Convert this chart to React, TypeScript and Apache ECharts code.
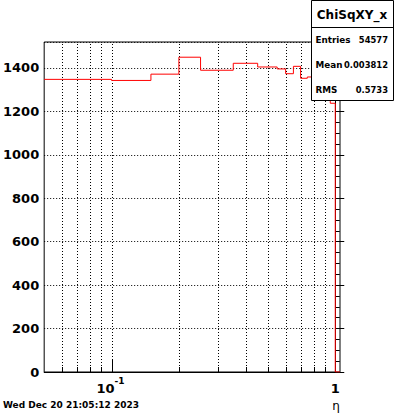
import React, { useEffect, useRef } from "react";
import * as echarts from "echarts";

// Histogram bin edges (eta) and bin contents
const binEdges = [0.05, 0.1, 0.15, 0.2, 0.25, 0.35, 0.45, 0.55, 0.6, 0.65, 0.7, 0.75, 0.8, 0.85, 0.9, 0.95, 1.0, 1.05];
const binCounts = [1347, 1342, 1371, 1449, 1389, 1421, 1404, 1395, 1373, 1407, 1352, 1358, 1345, 1330, 1300, 1237, 0];

// x grid / tick positions (log scale); majors get labels
const xGridValues = [0.06, 0.07, 0.08, 0.09, 0.1, 0.2, 0.3, 0.4, 0.5, 0.6, 0.7, 0.8, 0.9, 1.0];
const xMajorValues = [0.1, 1.0];
const xMajorLabels = [["10", "-1"], ["1", ""]];

const xMin = 0.05;
const xMax = 1.05;
const yMin = 0;
const yMax = 1519;
const yInterval = 200;

const statsTitle = "ChiSqXY_x";
const statsRows = [
  ["Entries", "54577"],
  ["Mean", "0.003812"],
  ["RMS", "0.5733"],
];
const dateText = "Wed Dec 20 21:05:12 2023";
const xTitle = "η";

const FONT = "DejaVu Sans";
const lg = (v: number) => Math.log10(v);

export default function App() {
  const ref = useRef<HTMLDivElement>(null);
  useEffect(() => {
    if (!ref.current) return;
    const chart = echarts.init(ref.current, undefined, { renderer: "svg" });

    const stepData = binEdges.map((e, i) => [lg(e), i < binCounts.length ? binCounts[i] : binCounts[binCounts.length - 1]]);
    const isMajor = (v: number) => xMajorValues.some((m) => Math.abs(m - v) < 1e-9);
    const gridData = xGridValues.map((v) => [lg(v), isMajor(v) ? 1 : 0]);
    const labelData = xMajorValues.map((v, i) => [lg(v), i]);

    const Z = 100;
    const graphics: any[] = [
      { type: "rect", z: Z, shape: { x: 311.5, y: 0.5, width: 82, height: 100 }, style: { fill: "#fff", stroke: "#000", lineWidth: 1 } },
      { type: "line", z: Z + 1, shape: { x1: 311.5, y1: 27.5, x2: 393.5, y2: 27.5 }, style: { stroke: "#000", lineWidth: 1 } },
      { type: "text", z: Z + 1, x: 352, y: 15, style: { text: statsTitle, font: `bold 12px "${FONT}"`, fill: "#000", align: "center", verticalAlign: "middle" } },
    ];
    const rowY = [40, 64.5, 89.5];
    statsRows.forEach((r, i) => {
      graphics.push({ type: "text", z: Z + 1, x: 315.5, y: rowY[i], style: { text: r[0], font: `bold 8.8px "${FONT}"`, fill: "#000", align: "left", verticalAlign: "middle" } });
      graphics.push({ type: "text", z: Z + 1, x: 388, y: rowY[i], style: { text: r[1], font: `bold 8.4px "${FONT}"`, fill: "#000", align: "right", verticalAlign: "middle" } });
    });
    graphics.push({ type: "text", z: Z, x: 3, y: 405, style: { text: dateText, font: `bold 9px "${FONT}"`, fill: "#000", align: "left", verticalAlign: "middle" } });
    graphics.push({ type: "text", z: Z, x: 336, y: 406, style: { text: xTitle, font: `12px "${FONT}"`, fill: "#000", align: "center", verticalAlign: "middle" } });

    chart.setOption({
      animation: false,
      backgroundColor: "#fff",
      grid: { left: 41, top: 42, width: 299, height: 330, show: true, borderColor: "#000", borderWidth: 1, backgroundColor: "transparent", containLabel: false },
      xAxis: {
        type: "value",
        min: lg(xMin),
        max: lg(xMax),
        axisLine: { show: true, lineStyle: { color: "#000", width: 1 } },
        axisTick: { show: false },
        splitLine: { show: false },
        axisLabel: { show: false },
      },
      yAxis: {
        type: "value",
        min: yMin,
        max: yMax,
        interval: yInterval,
        axisLine: { show: true, lineStyle: { color: "#000", width: 1 } },
        axisTick: { show: true, inside: true, length: 9, lineStyle: { color: "#000" } },
        minorTick: { show: true, splitNumber: 4, length: 4.5, lineStyle: { color: "#000" } },
        splitLine: { show: true, lineStyle: { color: "#000", width: 1, type: [1, 2] } },
        axisLabel: {
          show: true, margin: 5, showMaxLabel: false, color: "#000", fontFamily: FONT, fontWeight: "bold", fontSize: 13,
          formatter: (v: number) => String(Math.round(v)),
        },
      },
      series: [
        {
          type: "custom",
          coordinateSystem: "cartesian2d",
          z: 1,
          silent: true,
          encode: { x: 0, y: 1 },
          data: gridData,
          renderItem: (params: any, api: any) => {
            const xv = api.value(0);
            const major = api.value(1) === 1;
            const pb = api.coord([xv, yMin]);
            const pt = api.coord([xv, yMax]);
            const x = Math.round(pb[0]) + 0.5;
            const yb = Math.round(pb[1]);
            const yt = Math.round(pt[1]);
            const tl = major ? 12 : 5;
            return {
              type: "group",
              children: [
                { type: "line", shape: { x1: x, y1: yb, x2: x, y2: yt }, style: { stroke: "#000", lineWidth: 1, lineDash: [1, 2] } },
                { type: "line", shape: { x1: x, y1: yb, x2: x, y2: yb - tl }, style: { stroke: "#000", lineWidth: 1 } },
              ],
            };
          },
        },
        {
          type: "custom",
          coordinateSystem: "cartesian2d",
          z: 5,
          silent: true,
          clip: false,
          encode: { x: 0, y: 1 },
          data: labelData,
          renderItem: (params: any, api: any) => {
            const xv = api.value(0);
            const idx = api.value(1);
            const p = api.coord([xv, yMin]);
            const [base, sup] = xMajorLabels[idx];
            if (!sup) {
              return { type: "text", x: p[0], y: p[1] + 16, style: { text: base, font: `bold 13px "${FONT}"`, fill: "#000", align: "center", verticalAlign: "middle" } };
            }
            return {
              type: "group",
              children: [
                { type: "text", x: p[0] + 3, y: p[1] + 16, style: { text: base, font: `bold 13px "${FONT}"`, fill: "#000", align: "right", verticalAlign: "middle" } },
                { type: "text", x: p[0] + 3, y: p[1] + 9, style: { text: sup, font: `bold 9px "${FONT}"`, fill: "#000", align: "left", verticalAlign: "middle" } },
              ],
            };
          },
        },
        {
          type: "line",
          step: "end",
          data: stepData,
          showSymbol: false,
          symbol: "none",
          z: 3,
          lineStyle: { color: "#ff0000", width: 1 },
          itemStyle: { color: "#ff0000" },
        },
      ],
      graphic: graphics,
    });
    return () => chart.dispose();
  }, []);
  return <div ref={ref} style={{ position: "absolute", left: 0, top: 0, width: 400, height: 414 }} />;
}
